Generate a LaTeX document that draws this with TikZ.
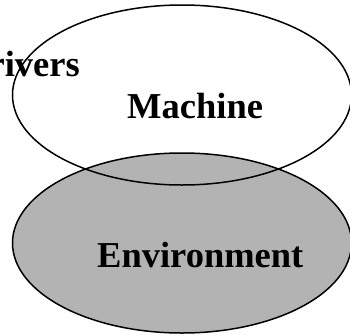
\documentclass[tikz,border=0pt]{standalone}
\usepackage{fontspec}
\setmainfont{Liberation Serif}
\usepackage{tikz}
\definecolor{envgray}{RGB}{179, 179, 179}
\usetikzlibrary{
  positioning,
  shapes,
}
\tikzset{
  bigtext/.style={font=\bfseries\fontsize{36.5}{40}\selectfont,inner sep=0},
  blob/.style={draw,ellipse,line width=1.5pt,inner sep=0,minimum width=339,minimum height=180},
}

\begin{document}
\begin{tikzpicture}[x=1pt,y=1pt]

        \useasboundingbox (0,0) rectangle (350,-335);

        \node[bigtext,anchor=base east]    (drv) at (80,-76)       {rivers};
        \node[blob,fill=envgray]    (env) at (182,-243)       {};
        \node[blob]    (mach) at (182,-95)       {};
        \node[bigtext,anchor=base west]    (machtxt) at (127,-118)       {Machine};
        \node[bigtext,anchor=base west]    (envtxt) at (97,-267)       {Environment};

    \end{tikzpicture}
\end{document}
